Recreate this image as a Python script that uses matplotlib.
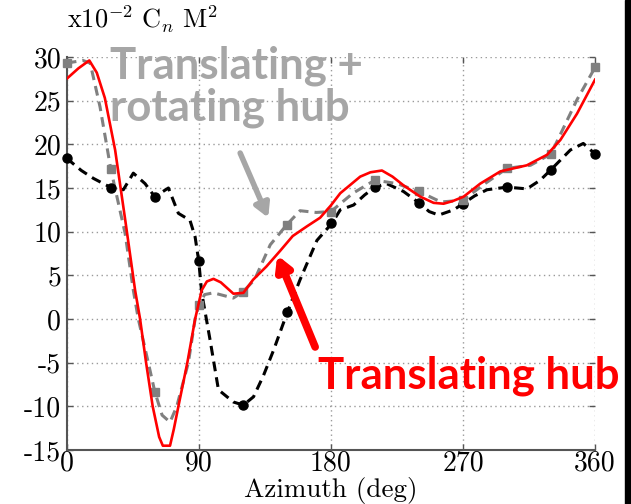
import matplotlib
matplotlib.use("Agg")
import matplotlib.pyplot as plt
from matplotlib.patches import Rectangle

# Normal-force coefficient around the azimuth, three hub models
red_az = [0, 8, 15.4, 20.5, 26, 33, 40, 46.6, 50, 54.1, 58.6, 63, 65.5, 70.4, 73,
          76.1, 82.2, 87.5, 92, 95.5, 100, 105, 113.6, 120.4, 127, 136, 145.4,
          154, 163.6, 172.7, 180, 186.4, 200, 207, 214.8, 222, 229.5, 241, 250,
          256.8, 263, 270.4, 281.8, 295.5, 313.6, 327.3, 336.4, 347.7, 360]
red_cn = [27.5, 28.7, 29.6, 28.2, 25.3, 19.35, 11.2, 3.3, 0.0, -5.0, -10.0, -13.5,
          -14.5, -14.5, -12.6, -10.0, -5.0, 0.0, 3.3, 4.3, 4.6, 4.2, 2.9, 3.0,
          4.5, 6.0, 7.8, 9.5, 10.6, 11.6, 13.0, 14.4, 16.3, 16.8, 17.0, 16.3,
          15.3, 14.0, 13.3, 13.2, 13.5, 14.0, 15.5, 16.9, 17.6, 18.8, 20.5, 23.5,
          27.4]

gray_az = [0, 11, 16, 22.7, 30, 39.8, 45.4, 48.8, 55.6, 60, 65, 70.4, 75, 82.9,
           87.5, 90, 94, 100, 113.5, 120, 128, 138.7, 150, 159, 170, 180, 195,
           210, 225, 240, 255, 270, 285, 300, 316, 330, 347.7, 360]
gray_cn = [29.3, 29.6, 29.3, 24.3, 17.2, 9.8, 3.3, 0.0, -5.0, -8.3, -11.0, -11.8,
           -10.0, -5.0, 0.0, 1.6, 2.8, 3.0, 2.4, 3.1, 4.5, 8.5, 10.8, 12.4, 12.2,
           12.3, 14.4, 15.9, 15.5, 14.6, 13.4, 13.6, 15.5, 17.25, 17.6, 18.9,
           25.1, 28.8]

black_az = [0, 10, 18.2, 25, 30.7, 38.6, 45.4, 53.4, 60, 69.3, 76.1, 84, 87.5,
            90, 92, 97.7, 103.4, 113.6, 120.4, 127.3, 134, 141, 150.4, 159,
            170.5, 180.7, 186.4, 195.5, 203, 210, 218, 229.5, 240, 247, 253.5,
            263.7, 270, 278, 286.4, 300, 313.6, 322.7, 330, 343.2, 352, 360]
black_cn = [18.4, 17.0, 16.1, 15.5, 15.0, 14.8, 16.7, 15.5, 14.0, 15.0, 12.1, 11.3,
            9.4, 6.6, 3.0, -2.4, -8.1, -9.5, -9.85, -8.9, -6.5, -3.55, 0.8, 4.5,
            9.0, 10.95, 12.5, 13.05, 14.2, 15.1, 15.5, 14.6, 13.3, 12.3, 11.9,
            12.5, 13.2, 14.1, 14.8, 15.1, 14.9, 15.9, 17.1, 19.35, 20.1, 18.9]

# Sampled stations every 30 degrees
marker_az = [0, 30, 60, 90, 120, 150, 180, 210, 240, 270, 300, 330, 360]
gray_marker_cn = [29.3, 17.2, -8.3, 1.6, 3.1, 10.8, 12.3, 15.9, 14.6, 13.6, 17.25, 18.9, 28.8]
black_marker_cn = [18.4, 15.0, 14.0, 6.6, -9.85, 0.8, 11.0, 15.1, 13.3, 13.2, 15.1, 17.1, 18.9]

xticks = [0, 90, 180, 270, 360]
yticks = [-15, -10, -5, 0, 5, 10, 15, 20, 25, 30]

plt.rcParams["mathtext.fontset"] = "cm"
plt.rcParams["axes.unicode_minus"] = False

fig = plt.figure(figsize=(6.31, 5.04), dpi=100)
ax = fig.add_axes([0.1057, 0.107, 0.8373, 0.780])

ax.plot(black_az, black_cn, color="black", lw=2.2, dashes=(3.2, 2.0), zorder=3)
ax.plot(marker_az, black_marker_cn, ls="none", marker="o", ms=6.5, color="black",
        zorder=4, clip_on=False)
ax.plot(gray_az, gray_cn, color="#808080", lw=2.2, dashes=(3.2, 2.0), zorder=3)
ax.plot(marker_az, gray_marker_cn, ls="none", marker="s", ms=6, color="#808080",
        zorder=4, clip_on=False)
ax.plot(red_az, red_cn, color="#ff0000", lw=1.9, zorder=5)

ax.set_xlim(0, 360)
ax.set_ylim(-15, 30)
ax.set_xticks(xticks)
ax.set_yticks(yticks)
tick_font = dict(family="cmr10", size=20)
ax.set_xticklabels([str(v) for v in xticks], **tick_font)
ax.set_yticklabels([str(v) for v in yticks], **tick_font)
ax.tick_params(direction="in", length=4, width=1, color="#555555",
               top=True, right=True, pad=4)
ax.tick_params(axis="x", pad=0)

ax.grid(True, ls=(0, (1, 2.5)), color="#9a9a9a", lw=1)
for side in ("top", "right"):
    ax.spines[side].set_visible(False)
for side in ("left", "bottom"):
    ax.spines[side].set_color("#555555")
    ax.spines[side].set_linewidth(1.5)

# Axis titles
fig.text(331 / 631, 7 / 504, "Azimuth (deg)", family="cmr10", size=19.5,
         ha="center", va="baseline")
fig.text(0.106, 0.962, r"$\mathrm{x10}^{-2}\ \mathrm{C}_n\ \mathrm{M}^2$",
         size=19, ha="left", va="center")

# Callouts
ax.text(29.6, 31.3, "Translating +\nrotating hub", color="#a6a6a6",
        family="Lato", weight="bold", size=31.5, ha="left", va="top",
        linespacing=1.05, clip_on=False, zorder=6)
ax.annotate("", xy=(137.3, 11.6), xytext=(118.2, 19.0),
            arrowprops=dict(arrowstyle="-|>,head_width=0.45,head_length=0.8",
                            color="#a6a6a6", lw=4, shrinkA=0, shrinkB=0),
            zorder=6)
ax.text(171.4, -8.0, "Translating hub", color="#ff0000",
        family="Lato", weight="bold", size=31.5, ha="left", va="baseline",
        clip_on=False, zorder=6)
ax.annotate("", xy=(143.5, 7.3), xytext=(169.3, -3.2),
            arrowprops=dict(arrowstyle="-|>,head_width=0.45,head_length=0.8",
                            color="#ff0000", lw=5.5, shrinkA=0, shrinkB=0),
            zorder=6)

# Dark strip along the right border
fig.patches.append(Rectangle((624.5 / 631, 0), 6.5 / 631, 1, transform=fig.transFigure,
                             color="black", zorder=10))

fig.savefig("out.png", dpi=100)
